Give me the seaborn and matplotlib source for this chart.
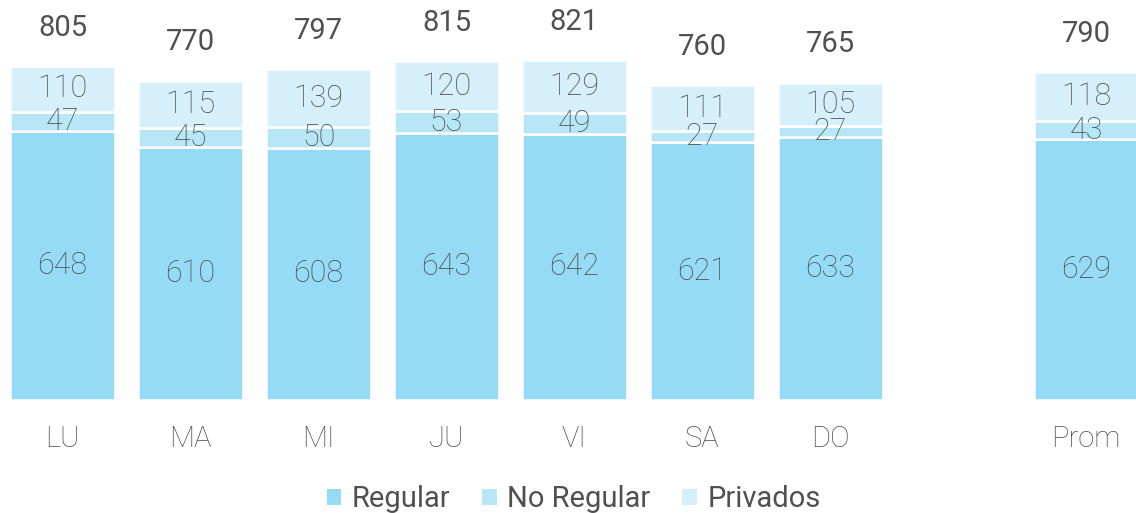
import matplotlib
matplotlib.use("Agg")
import matplotlib.pyplot as plt
import seaborn as sns
import numpy as np
import pandas as pd
from matplotlib.patches import Patch

days = ["LU", "MA", "MI", "JU", "VI", "SA", "DO", "Prom"]
positions = [0, 1, 2, 3, 4, 5, 6, 8]
regular = [648, 610, 608, 643, 642, 621, 633, 629]
no_regular = [47, 45, 50, 53, 49, 27, 27, 43]
privados = [110, 115, 139, 120, 129, 111, 105, 118]
totals = [805, 770, 797, 815, 821, 760, 765, 790]

series_names = ["Regular", "No Regular", "Privados"]
colors = ["#96dbf5", "#b7e6f7", "#d5f0fa"]
text_color = "#505050"

sns.set_theme(style="white")
plt.rcParams["font.family"] = ["Roboto", "DejaVu Sans"]

df = pd.DataFrame({
    "pos": positions,
    "Regular": regular,
    "No Regular": no_regular,
    "Privados": privados,
})

fig = plt.figure(figsize=(11.36, 5.13), dpi=100)
ax = fig.add_axes([0.0, 0.22, 1.0, 0.78])

bottom = np.zeros(len(df))
for name, col in zip(series_names, colors):
    sns.barplot(data=df, x="pos", y=name, native_scale=True, ax=ax,
                color=col, saturation=1, width=0.82, errorbar=None,
                bottom=bottom.copy(), edgecolor="white", linewidth=1.8)
    vals = df[name].to_numpy()
    for p, b, v in zip(df["pos"], bottom, vals):
        ax.text(p, b + v / 2, f"{v}", ha="center", va="center",
                fontsize=22, color=text_color, fontweight="light")
    bottom = bottom + vals

for p, t, tot in zip(df["pos"], bottom, totals):
    ax.text(p, t + 92, f"{tot}", ha="center", va="center",
            fontsize=21, color=text_color, fontweight="normal")

ax.set_xlim(-0.49, 8.39)
ax.set_ylim(0, 964)
ax.set_xticks(positions)
ax.set_xticklabels(days, fontsize=21, color=text_color, fontweight="light")
ax.tick_params(axis="x", length=0, pad=18)
ax.set_yticks([])
ax.set_xlabel("")
ax.set_ylabel("")
for s in ax.spines.values():
    s.set_visible(False)

handles = [Patch(facecolor=c, edgecolor="none") for c in colors]
fig.legend(handles, series_names, loc="lower center", ncol=3, frameon=False,
           bbox_to_anchor=(0.505, -0.052), fontsize=21, labelcolor=text_color,
           handlelength=0.5, handleheight=0.5, handletextpad=0.35,
           columnspacing=1.1)

fig.savefig("out.png", dpi=100)
